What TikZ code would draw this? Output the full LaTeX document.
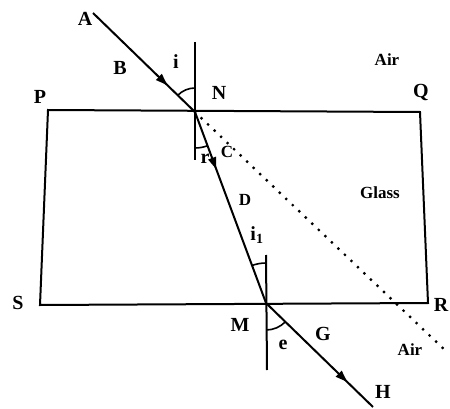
\documentclass[tikz,border=0pt]{standalone}
\usepackage{fontspec}
\setmainfont{Liberation Serif}
\usetikzlibrary{decorations.markings,arrows.meta,angles}
\begin{document}
\begin{tikzpicture}[x=1pt,y=1pt,
  line width=2pt,
  midarrow/.style={postaction={decorate},decoration={markings,mark=at position #1 with {\arrow{Triangle[length=12pt,width=8pt]}}}},
  lbl/.style={font=\bfseries\fontsize{20}{20}\selectfont, inner sep=0pt},
  medium/.style={font=\bfseries\fontsize{17}{17}\selectfont, inner sep=0pt},
  arcst/.style={draw, line width=1.6pt},
  dots/.style={line width=3.2pt, line cap=round, dash pattern=on 0pt off 9pt}]
\useasboundingbox (0,0) rectangle (450,408);
% corners
\coordinate (PP) at (48,298);
\coordinate (QQ) at (420,296);
\coordinate (RR) at (428,105);
\coordinate (SS) at (40,103);
% points
\coordinate (N) at (195,296);
\coordinate (M) at (266,105);
\coordinate (A) at (93,395);
\coordinate (H) at (373,1);
\coordinate (Ntop) at (195,366);
\coordinate (Nbot) at (195,248);
\coordinate (Mtop) at (266,153);
\coordinate (Mbot) at (267,38);
\coordinate (Dend) at (448,55);
% glass slab
\draw (PP) -- (QQ) -- (RR) -- (SS) -- cycle;
% normals
\draw (Ntop) -- (Nbot);
\draw (Mtop) -- (Mbot);
% rays
\draw[midarrow=0.73] (A) -- (N);
\draw[midarrow=0.30] (N) -- (M);
\draw[midarrow=0.76] (M) -- (H);
\draw[dots] (N) -- (Dend);
% angles
\pic[arcst, angle radius=24pt] {angle=Ntop--N--A};
\pic[arcst, angle radius=36pt] {angle=Nbot--N--M};
\pic[arcst, angle radius=40pt] {angle=Mtop--M--N};
\pic[arcst, angle radius=27pt] {angle=Mbot--M--H};
% labels
\node[lbl] (lA) at (85,389) {A};
\node[lbl] (lB) at (120,340) {B};
\node[lbl] (li) at (176,346) {i};
\node[lbl] (lN) at (219,315) {N};
\node[medium] (lAir1) at (387,348) {Air};
\node[lbl] (lQ) at (421,316) {Q};
\node[lbl] (lP) at (40,311) {P};
\node[medium] (lC) at (227,256) {C};
\node[lbl] (lr) at (205,249) {r};
\node[medium] (lD) at (245,208) {D};
\node[medium] (lGlass) at (380,215) {Glass};
\node[lbl] (li1) at (257,173) {i$_{\mathbf 1}$};
\node[lbl] (lS) at (18,105) {S};
\node[lbl] (lM) at (240,83) {M};
\node[lbl] (lR) at (441,103) {R};
\node[lbl] (lG) at (323,74) {G};
\node[lbl] (le) at (283,63) {e};
\node[medium] (lAir2) at (410,58) {Air};
\node[lbl] (lH) at (383,16) {H};
\end{tikzpicture}
\end{document}
